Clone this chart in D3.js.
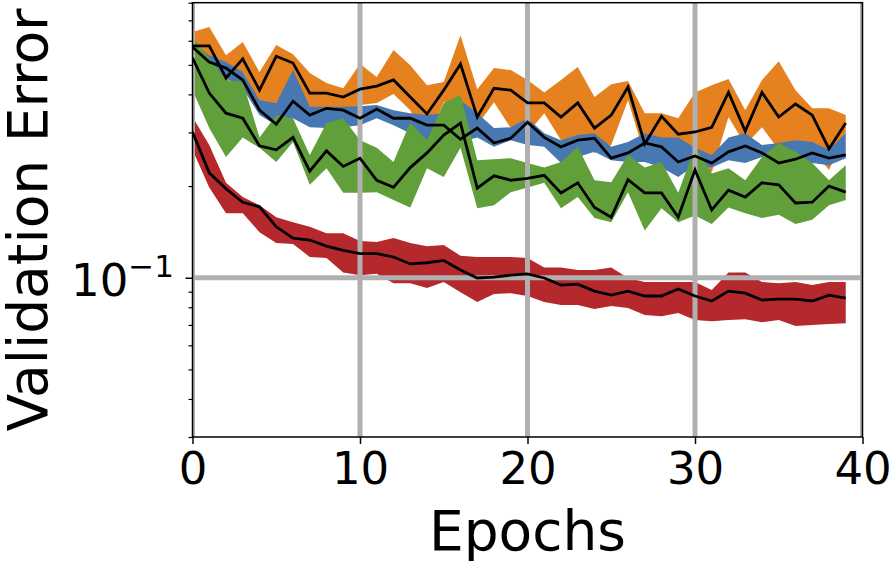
<!DOCTYPE html>
<html>
<head>
<meta charset="utf-8">
<script src="https://cdn.jsdelivr.net/npm/d3@7"></script>
<style>
  body { margin: 0; background: #fff; }
  text { font-family: "DejaVu Sans", sans-serif; }
</style>
</head>
<body>
<svg id="chart" width="892" height="561"></svg>
<script>
// epochs on the x axis
var epochs = d3.range(40);
var xTicks = [0, 10, 20, 30, 40];

// validation error per epoch (mean, band low, band high)
var orangeMean = [0.577,0.577,0.453,0.523,0.413,0.534,0.507,0.404,0.404,0.392,0.416, 0.426,0.446,0.392,0.345,0.413,0.503,0.337,0.419,0.413,0.375, 0.375,0.337,0.375,0.310,0.342,0.423,0.275,0.339,0.296,0.301, 0.312,0.406,0.303,0.406,0.337,0.372,0.342,0.265,0.322];
var orangeHi = [0.641,0.666,0.538,0.594,0.474,0.581,0.542,0.470,0.436,0.419,0.503, 0.456,0.559,0.499,0.429,0.439,0.626,0.416,0.488,0.481,0.446, 0.406,0.446,0.492,0.392,0.432,0.443,0.347,0.347,0.334,0.406, 0.429,0.449,0.355,0.446,0.514,0.413,0.360,0.360,0.342];
var orangeLo = [0.559,0.527,0.439,0.474,0.377,0.375,0.446,0.364,0.350,0.334,0.369, 0.375,0.401,0.355,0.279,0.377,0.383,0.317,0.377,0.310,0.298, 0.347,0.283,0.283,0.257,0.273,0.383,0.253,0.287,0.273,0.229, 0.222,0.337,0.273,0.312,0.263,0.283,0.263,0.226,0.298];

var blueMean = [0.572,0.511,0.488,0.446,0.355,0.319,0.380,0.342,0.360,0.355,0.334, 0.358,0.334,0.334,0.317,0.317,0.285,0.310,0.277,0.287,0.324, 0.289,0.269,0.283,0.287,0.247,0.257,0.277,0.269,0.240,0.251, 0.238,0.259,0.271,0.257,0.238,0.245,0.257,0.247,0.253];
var blueHi = [0.594,0.538,0.511,0.474,0.383,0.375,0.481,0.364,0.364,0.364,0.366, 0.369,0.355,0.347,0.342,0.347,0.383,0.347,0.310,0.312,0.334, 0.298,0.283,0.294,0.298,0.269,0.279,0.298,0.289,0.289,0.267, 0.253,0.289,0.298,0.273,0.277,0.283,0.279,0.263,0.298];
var blueLo = [0.551,0.488,0.453,0.419,0.342,0.317,0.334,0.312,0.310,0.312,0.317, 0.334,0.317,0.298,0.283,0.301,0.279,0.289,0.269,0.283,0.273, 0.269,0.238,0.249,0.259,0.243,0.240,0.240,0.230,0.214,0.234, 0.230,0.243,0.238,0.249,0.234,0.234,0.238,0.234,0.247];

var greenMean = [0.527,0.404,0.347,0.334,0.271,0.263,0.289,0.224,0.261,0.232,0.247, 0.209,0.198,0.230,0.257,0.294,0.322,0.197,0.216,0.209,0.212, 0.217,0.190,0.205,0.170,0.158,0.210,0.190,0.190,0.158,0.226, 0.167,0.194,0.184,0.205,0.202,0.176,0.177,0.200,0.191];
var greenHi = [0.617,0.527,0.446,0.439,0.289,0.342,0.334,0.253,0.322,0.334,0.283, 0.267,0.240,0.324,0.283,0.375,0.398,0.243,0.245,0.247,0.238, 0.230,0.240,0.269,0.209,0.206,0.253,0.230,0.240,0.190,0.269, 0.220,0.229,0.209,0.249,0.277,0.259,0.238,0.209,0.234];
var greenLo = [0.413,0.310,0.249,0.289,0.267,0.240,0.279,0.202,0.229,0.190,0.190, 0.191,0.180,0.170,0.229,0.214,0.267,0.169,0.173,0.191,0.198, 0.205,0.169,0.184,0.157,0.152,0.191,0.143,0.169,0.152,0.160, 0.150,0.170,0.163,0.157,0.161,0.150,0.155,0.173,0.180];

var redMean = [0.301,0.221,0.196,0.177,0.171,0.147,0.135,0.133,0.127,0.123,0.120, 0.120,0.117,0.111,0.112,0.114,0.106,0.0998,0.1005,0.102,0.103, 0.0998,0.0946,0.0953,0.0904,0.0877,0.0904,0.0871,0.0871,0.0918,0.0871, 0.0839,0.0904,0.0890,0.0845,0.0851,0.0851,0.0839,0.0877,0.0858];
var redHi = [0.337,0.273,0.205,0.184,0.173,0.158,0.152,0.147,0.140,0.140,0.132, 0.131,0.135,0.130,0.127,0.128,0.118,0.117,0.117,0.117,0.116, 0.108,0.108,0.106,0.106,0.108,0.0998,0.0968,0.0968,0.0968,0.0968, 0.0911,0.104,0.104,0.0968,0.096,0.0968,0.0946,0.0968,0.0968];
var redLo = [0.263,0.198,0.163,0.163,0.141,0.130,0.129,0.117,0.116,0.104,0.102, 0.103,0.096,0.096,0.0925,0.0968,0.0897,0.0832,0.0884,0.0890,0.0871, 0.0832,0.0814,0.0814,0.0789,0.0808,0.0795,0.0754,0.0748,0.0766,0.0726, 0.0720,0.0726,0.0731,0.0714,0.0726,0.0694,0.0700,0.0705,0.0709];

var series = [
  { color: "#e6811f", mean: orangeMean, lo: orangeLo, hi: orangeHi },
  { color: "#4878b2", mean: blueMean, lo: blueLo, hi: blueHi },
  { color: "#609f3a", mean: greenMean, lo: greenLo, hi: greenHi },
  { color: "#b5292d", mean: redMean, lo: redLo, hi: redHi }
];

var svg = d3.select("#chart");
var padLeft = 192.5, padRight = 862.5, padTop = 2.7, padBottom = 437;

var xScale = d3.scaleLinear().domain([0, 40]).range([padLeft, padRight]);
var yScale = d3.scaleLog().domain([0.03, 0.8]).range([padBottom, padTop]);

svg.append("defs").append("clipPath").attr("id", "plotclip")
  .append("rect")
  .attr("x", padLeft).attr("y", padTop)
  .attr("width", padRight - padLeft).attr("height", padBottom - padTop);

var plot = svg.append("g").attr("clip-path", "url(#plotclip)");

// bands
series.forEach(function(s) {
  var area = d3.area()
    .x(function(d) { return xScale(d); })
    .y0(function(d) { return yScale(s.lo[d]); })
    .y1(function(d) { return yScale(s.hi[d]); });
  plot.append("path")
    .attr("d", area(epochs))
    .attr("fill", s.color);
});

// grid lines (drawn over the bands)
plot.selectAll(".vgrid")
  .data(xTicks)
  .enter().append("line")
    .attr("x1", function(d) { return xScale(d); })
    .attr("x2", function(d) { return xScale(d); })
    .attr("y1", padTop).attr("y2", padBottom)
    .attr("stroke", "#b0b0b0").attr("stroke-width", 5);

plot.append("line")
  .attr("x1", padLeft).attr("x2", padRight)
  .attr("y1", yScale(0.1)).attr("y2", yScale(0.1))
  .attr("stroke", "#b0b0b0").attr("stroke-width", 5);

// mean lines
series.forEach(function(s) {
  var line = d3.line()
    .x(function(d) { return xScale(d); })
    .y(function(d) { return yScale(s.mean[d]); });
  plot.append("path")
    .attr("d", line(epochs))
    .attr("fill", "none")
    .attr("stroke", "#000")
    .attr("stroke-width", 2.8)
    .attr("stroke-linejoin", "miter");
});

// frame
svg.append("rect")
  .attr("x", padLeft).attr("y", padTop)
  .attr("width", padRight - padLeft).attr("height", padBottom - padTop)
  .attr("fill", "none").attr("stroke", "#000").attr("stroke-width", 1.5);

// x axis
var xAxis = d3.axisBottom(xScale).tickValues(xTicks).tickSize(7).tickPadding(8)
  .tickFormat(d3.format("d"));
var gx = svg.append("g")
  .attr("transform", "translate(0," + padBottom + ")")
  .call(xAxis);
gx.select(".domain").remove();
gx.selectAll(".tick line").attr("stroke-width", 1.5);
gx.selectAll("text").attr("font-size", 45).attr("fill", "#000")
  .attr("font-family", "DejaVu Sans");

// y axis: minor ticks
var minorTicks = [0.03,0.04,0.05,0.06,0.07,0.08,0.09,0.2,0.3,0.4,0.5,0.6,0.7,0.8];
var gyMinor = svg.append("g")
  .attr("transform", "translate(" + padLeft + ",0)")
  .call(d3.axisLeft(yScale).tickValues(minorTicks).tickSize(4).tickFormat(""));
gyMinor.select(".domain").remove();
gyMinor.selectAll(".tick line").attr("stroke-width", 1.2);

// y axis: major tick 10^-1
var gyMajor = svg.append("g")
  .attr("transform", "translate(" + padLeft + ",0)")
  .call(d3.axisLeft(yScale).tickValues([0.1]).tickSize(7).tickFormat(""));
gyMajor.select(".domain").remove();
gyMajor.selectAll(".tick line").attr("stroke-width", 1.5);

var yl = svg.append("text")
  .attr("x", 174)
  .attr("y", yScale(0.1) + 18)
  .attr("text-anchor", "end")
  .attr("font-size", 45)
  .attr("fill", "#000");
yl.append("tspan").text("10");
yl.append("tspan").attr("font-size", 31).attr("dy", -19).text("\u22121");

// axis labels
svg.append("text")
  .attr("x", (padLeft + padRight) / 2)
  .attr("y", 550)
  .attr("text-anchor", "middle")
  .attr("font-size", 55)
  .attr("fill", "#000")
  .text("Epochs");

svg.append("text")
  .attr("transform", "translate(47," + ((padTop + padBottom) / 2) + ") rotate(-90)")
  .attr("text-anchor", "middle")
  .attr("font-size", 55)
  .attr("fill", "#000")
  .text("Validation Error");
</script>
</body>
</html>
